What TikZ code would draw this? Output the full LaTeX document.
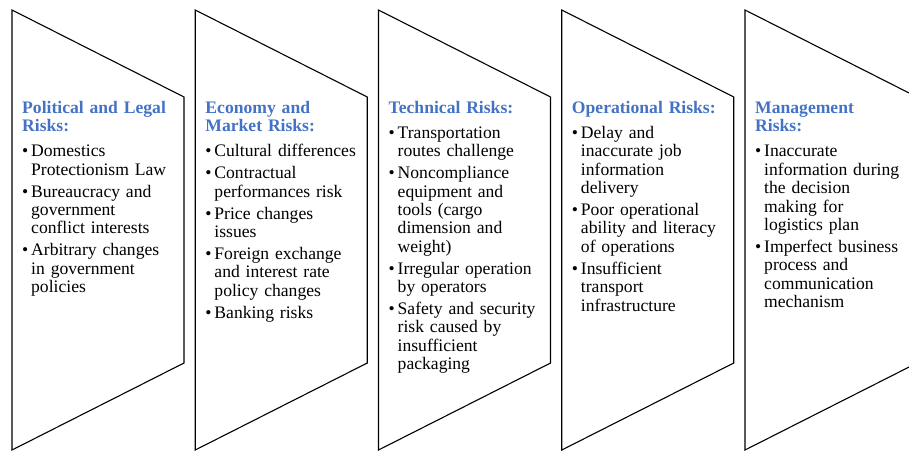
\documentclass[tikz,border=0pt]{standalone}
\usepackage{fontspec}
\setmainfont{Liberation Serif}
\definecolor{riskblue}{RGB}{68,114,196}
\newcommand{\risktitle}[1]{{\bfseries\color{riskblue}#1}\par\vspace{3.5pt}}
\newcommand{\riskitem}[1]{\par\vspace{3.5pt}\hangindent=9pt\hangafter=1\noindent
  \makebox[9pt][l]{\textbullet}{\let\\\newline #1}\par}
\tikzset{
  riskbox/.style={draw=black,line width=1.1pt,line join=miter},
  risktext/.style={anchor=base west,inner sep=0pt,text width=170pt,align=left,
    font=\fontsize{17.6}{18.4}\selectfont}
}
\begin{document}
\begin{tikzpicture}[x=1pt,y=-1pt]
\useasboundingbox (0,0) rectangle (909,450);
\clip (0,0) rectangle (909,450);
%\draw[step=50,gray,very thin] (0,0) grid (909,450); %background grid
\draw[riskbox] (12,10) -- (184,97) -- (184,363) -- (12,450) -- cycle;
\draw[riskbox] (195.25,10) -- (367.25,97) -- (367.25,363) -- (195.25,450) -- cycle;
\draw[riskbox] (378.5,10) -- (550.5,97) -- (550.5,363) -- (378.5,450) -- cycle;
\draw[riskbox] (561.75,10) -- (733.75,97) -- (733.75,363) -- (561.75,450) -- cycle;
\draw[riskbox] (745,10) -- (917,97) -- (917,363) -- (745,450) -- cycle;
\node[risktext] (pol) at (22,113) {\risktitle{Political and Legal\\ Risks:}
  \riskitem{Domestics\\ Protectionism Law}
  \riskitem{Bureaucracy and\\ government\\ conflict interests}
  \riskitem{Arbitrary changes\\ in government\\ policies}};
\node[risktext] (eco) at (205.25,113) {\risktitle{Economy and\\ Market Risks:}
  \riskitem{Cultural differences}
  \riskitem{Contractual\\ performances risk}
  \riskitem{Price changes\\ issues}
  \riskitem{Foreign exchange\\ and interest rate\\ policy changes}
  \riskitem{Banking risks}};
\node[risktext] (tec) at (388.5,113) {\risktitle{Technical Risks:}
  \riskitem{Transportation\\ routes challenge}
  \riskitem{Noncompliance\\ equipment and\\ tools (cargo\\ dimension and\\ weight)}
  \riskitem{Irregular operation\\ by operators}
  \riskitem{Safety and security\\ risk caused by\\ insufficient\\ packaging}};
\node[risktext] (ope) at (571.75,113) {\risktitle{Operational Risks:}
  \riskitem{Delay and\\ inaccurate job\\ information\\ delivery}
  \riskitem{Poor operational\\ ability and literacy\\ of operations}
  \riskitem{Insufficient\\ transport\\ infrastructure}};
\node[risktext] (man) at (755,113) {\risktitle{Management\\ Risks:}
  \riskitem{Inaccurate\\ information during\\ the decision\\ making for\\ logistics plan}
  \riskitem{Imperfect business\\ process and\\ communication\\ mechanism}};
\end{tikzpicture}
\end{document}
